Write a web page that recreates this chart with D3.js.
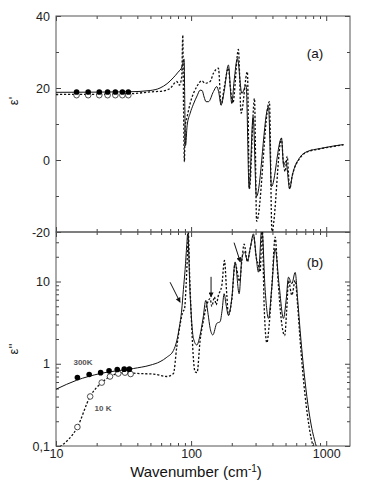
<!DOCTYPE html>
<html>
<head>
<meta charset="utf-8">
<script src="https://cdn.jsdelivr.net/npm/d3@7"></script>
<style>
  body { margin: 0; background: #fff; }
  svg { display: block; font-family: "Liberation Sans", Arial, sans-serif; }
</style>
</head>
<body>
<div id="root"></div>
<script>
// ---- panel (a): real part eps' ----
let wnSolidA = [10, 20, 35.3, 49.7, 58.9, 66.4, 73.6, 80.1, 85.8, 88.8, 89.9, 91.0, 93.4, 98.4, 104, 110.7, 116.6, 120.6, 124.8, 129,
    134.4, 146.3, 154.9, 159.8, 166.8, 175.6, 188.8, 200, 208.2, 220.2, 237.5, 255.5, 269, 287.7, 304.6, 374, 393.4, 466.7, 484, 502.8,
    536.6, 559.6, 641, 719, 903, 1343];
let epsSolidA = [18.8, 18.85, 18.95, 19.3, 20.0, 21.2, 22.8, 24.4, 26.0, 28.0, 14, 4.0, 9.5, 13, 15.5, 17.8, 19.4, 19.3, 17.5, 16.2,
    16.2, 19.0, 20.4, 19, 15.3, 19, 26.4, 15.7, 22, 28.2, 18.5, 20.8, -7.9, 12, -10.2, 14.8, -7.4, 6.0, -1.5, -0.3,
    -8.0, -4.5, 0.8, 2.3, 3.2, 4.3];

let wnDashA = [10, 20, 35.3, 49.7, 62.4, 69.9, 78.3, 81.9, 85.2, 86.8, 87.9, 89.2, 90.3, 93.4, 98.4, 110.2, 120, 127, 138.3, 146.3,
    159.3, 166.8, 175.6, 188.8, 194.5, 203.7, 224, 234.4, 261, 270, 294.5, 305.5, 380, 396.5, 466.7, 480, 497, 514, 536.6, 559.6,
    641, 719, 903, 1343];
let epsDashA = [18.2, 18.25, 18.4, 18.9, 19.2, 19.9, 21.8, 20.8, 23.1, 34.7, 15, -0.5, 9.3, 12, 15.7, 20.4, 22.0, 21.3, 21.8, 24.1,
    25.5, 15.3, 20, 25.5, 20.8, 15.8, 30.7, 13, 24.5, -8, 17.1, -17, 16.2, -19.8, 6.0, 0, -3.2, 1.0, -8.0, -4.5,
    0.6, 2.2, 3.1, 4.2];

let wnPointsA = [14.2, 17.3, 20.9, 24.1, 27.5, 31.0, 34.3];
let eps300A = [18.9, 18.9, 18.9, 18.9, 18.9, 18.9, 18.9];
let eps10A = [18.0, 18.0, 18.0, 18.0, 18.0, 18.0, 18.0];

// ---- panel (b): imaginary part eps'' ----
let wnSolidB = [10, 14.2, 21.2, 37.4, 49.7, 58.9, 66.1, 74, 78.3, 81.9, 85.2, 87.7, 90.3, 92.9, 94.3, 98.4, 104, 110.2, 116.6, 122.7,
    128.5, 133.6, 138.3, 144.8, 154.9, 164, 169.7, 175.6, 181.6, 188.8, 200, 211.8, 226.8, 237.5, 248.3, 261, 273.5, 289.4, 303, 315,
    334, 353, 374, 394.5, 418.8, 448.3, 482.7, 505.4, 525.7, 556.9, 589.3, 615, 641, 675.4, 719, 774, 843, 900];
let epsSolidB = [0.49, 0.63, 0.76, 0.875, 0.96, 1.06, 1.2, 1.45, 1.9, 2.8, 4.5, 8, 14, 28, 38, 6.8, 2.04, 1.69, 2.24, 3.6,
    5.9, 4.0, 2.7, 2.24, 3.1, 3.25, 4.5, 7.1, 5.2, 3.9, 6.2, 17.3, 7.1, 19, 22.9, 18.1, 25.1, 38, 20, 13,
    45, 8, 3.56, 8, 25.1, 9, 3.56, 6, 11.3, 9.4, 12.9, 6, 2.55, 1.0, 0.4, 0.18, 0.1, 0.07];

let wnDashB = [10.7, 14.4, 17.9, 21.8, 25.1, 28.9, 32.4, 36.6, 41.9, 52.6, 66.1, 74, 78.3, 82.9, 86.5, 89.5, 91.8, 94.3, 95.3, 97.5,
    101.2, 103.5, 107, 110.7, 116.6, 122.7, 130.7, 138.3, 142.3, 148.8, 153.1, 159.3, 168.8, 176.5, 183.8, 188.8, 200, 211.8, 228.8, 237.5,
    247, 261, 273.5, 289.4, 304.6, 315, 324.3, 335.5, 347.3, 363.7, 378.4, 398, 418.8, 440.6, 464.2, 492.7, 510, 525.7, 556.9, 589.3,
    615, 641, 698.8, 748, 797, 850];
let epsDashB = [0.098, 0.17, 0.40, 0.59, 0.70, 0.76, 0.78, 0.77, 0.76, 0.75, 0.70, 0.76, 1.6, 3.0, 4.2, 4.7, 9, 25, 40, 12,
    2.7, 1.3, 0.8, 0.78, 1.93, 3.2, 5.2, 6.2, 5.0, 6.5, 5.2, 6.8, 9.0, 18, 6.8, 3.9, 6, 16.5, 10, 18,
    28.5, 17.3, 25, 36, 19, 15.8, 13.1, 48, 5, 1.8, 3, 10, 34.6, 10, 3.5, 2.2, 4.5, 10.3, 6.8, 10.3,
    5, 1.93, 0.4, 0.17, 0.1, 0.07];

let wn300B = [14.4, 17.6, 21.4, 24.7, 28.4, 32.0, 34.9];
let eps300B = [0.68, 0.74, 0.78, 0.82, 0.85, 0.86, 0.86];
let wn10B = [14.4, 17.9, 21.8, 25.1, 28.9, 32.4, 35.7];
let eps10B = [0.17, 0.40, 0.59, 0.70, 0.76, 0.78, 0.75];

// arrows in panel (b): [start, end]
let arrowWn = [[69.9, 82.9], [140.5, 140.5], [208, 231.3]];
let arrowEps = [[9.8, 5.6], [11.4, 6.5], [29.7, 17.3]];

// ticks
let xMajor = [10, 100, 1000];
let xMinor = [20, 30, 40, 50, 60, 70, 80, 90, 200, 300, 400, 500, 600, 700, 800, 900];
let yAMajor = [-20, 0, 20, 40];
let yAMinor = [-10, 10, 30];
let yBMajor = [0.1, 1, 10];
let yBMinor = [0.2, 0.3, 0.4, 0.5, 0.6, 0.7, 0.8, 0.9, 2, 3, 4, 5, 6, 7, 8, 9, 20, 30];

let width = 371, height = 482;
let left = 56, right = 350, topA = 16, mid = 232, bottomB = 446;

let svg = d3.select('#root').append('svg')
    .attr('width', width)
    .attr('height', height);

let x = d3.scaleLog().domain([10, 1500]).range([left, right]);
let yA = d3.scaleLinear().domain([-20, 40]).range([mid, topA]);
let yB = d3.scaleLog().domain([0.1, 40]).range([bottomB, mid]);

let defs = svg.append('defs');
defs.append('clipPath').attr('id', 'clipB')
    .append('rect').attr('x', left).attr('y', mid).attr('width', right - left).attr('height', bottomB - mid);
defs.append('marker')
    .attr('id', 'head')
    .attr('viewBox', '0 0 10 10')
    .attr('refX', 9).attr('refY', 5)
    .attr('markerWidth', 6).attr('markerHeight', 5)
    .attr('markerUnits', 'userSpaceOnUse')
    .attr('orient', 'auto')
    .append('path').attr('d', 'M0,0 L10,5 L0,10 Z').attr('fill', '#111');

// draw one axis (ticks pointing inside)
function axis(gen, pos, values, size, fmt, pad) {
    let g = svg.append('g')
        .attr('transform', pos)
        .call(gen.tickValues(values).tickSize(-size).tickPadding(pad || 6).tickFormat(fmt || ''));
    g.select('.domain').remove();
    g.selectAll('line').attr('stroke', '#444');
    g.selectAll('text').attr('fill', '#222').style('font-size', '12.5px');
    return g;
}

// panel (a) axes
axis(d3.axisBottom(x), `translate(0,${mid})`, xMajor, 5);
axis(d3.axisBottom(x), `translate(0,${mid})`, xMinor, 3);
axis(d3.axisTop(x), `translate(0,${topA})`, xMajor, 5);
axis(d3.axisTop(x), `translate(0,${topA})`, xMinor, 3);
axis(d3.axisLeft(yA), `translate(${left},0)`, yAMajor, 5, d => d);
axis(d3.axisLeft(yA), `translate(${left},0)`, yAMinor, 3);
axis(d3.axisRight(yA), `translate(${right},0)`, yAMajor, 5);
axis(d3.axisRight(yA), `translate(${right},0)`, yAMinor, 3);

// panel (b) axes
axis(d3.axisBottom(x), `translate(0,${bottomB})`, xMajor, 5, d => d, 3);
axis(d3.axisBottom(x), `translate(0,${bottomB})`, xMinor, 3);
axis(d3.axisTop(x), `translate(0,${mid})`, xMajor, 5);
axis(d3.axisTop(x), `translate(0,${mid})`, xMinor, 3);
axis(d3.axisLeft(yB), `translate(${left},0)`, yBMajor, 5, d => d === 0.1 ? '0,1' : d);
axis(d3.axisLeft(yB), `translate(${left},0)`, yBMinor, 3);
axis(d3.axisRight(yB), `translate(${right},0)`, yBMajor, 5);
axis(d3.axisRight(yB), `translate(${right},0)`, yBMinor, 3);

// frames
svg.append('rect').attr('x', left).attr('y', topA).attr('width', right - left).attr('height', mid - topA)
    .attr('fill', 'none').attr('stroke', '#555').attr('stroke-width', 1);
svg.append('rect').attr('x', left).attr('y', mid).attr('width', right - left).attr('height', bottomB - mid)
    .attr('fill', 'none').attr('stroke', '#555').attr('stroke-width', 1);

let lineA = d3.line().x(d => x(d[0])).y(d => yA(d[1])).curve(d3.curveMonotoneX);
let lineB = d3.line().x(d => x(d[0])).y(d => yB(d[1])).curve(d3.curveMonotoneX);

// curves panel (a)
svg.append('path').datum(d3.zip(wnDashA, epsDashA)).attr('d', lineA)
    .attr('fill', 'none').attr('stroke', '#111').attr('stroke-width', 1.3).attr('stroke-dasharray', '2.2,1.8');
svg.append('path').datum(d3.zip(wnSolidA, epsSolidA)).attr('d', lineA)
    .attr('fill', 'none').attr('stroke', '#111').attr('stroke-width', 1);

// curves panel (b)
let gB = svg.append('g').attr('clip-path', 'url(#clipB)');
gB.append('path').datum(d3.zip(wnDashB, epsDashB)).attr('d', lineB)
    .attr('fill', 'none').attr('stroke', '#111').attr('stroke-width', 1.3).attr('stroke-dasharray', '2.2,1.8');
gB.append('path').datum(d3.zip(wnSolidB, epsSolidB)).attr('d', lineB)
    .attr('fill', 'none').attr('stroke', '#111').attr('stroke-width', 1);

// measured points
svg.selectAll('.openA').data(d3.zip(wnPointsA, eps10A)).enter().append('circle')
    .attr('cx', d => x(d[0])).attr('cy', d => yA(d[1])).attr('r', 2.8)
    .attr('fill', '#fff').attr('stroke', '#222').attr('stroke-width', 0.8);
svg.selectAll('.fillA').data(d3.zip(wnPointsA, eps300A)).enter().append('circle')
    .attr('cx', d => x(d[0])).attr('cy', d => yA(d[1])).attr('r', 2.8)
    .attr('fill', '#000');
svg.selectAll('.openB').data(d3.zip(wn10B, eps10B)).enter().append('circle')
    .attr('cx', d => x(d[0])).attr('cy', d => yB(d[1])).attr('r', 2.8)
    .attr('fill', '#fff').attr('stroke', '#222').attr('stroke-width', 0.8);
svg.selectAll('.fillB').data(d3.zip(wn300B, eps300B)).enter().append('circle')
    .attr('cx', d => x(d[0])).attr('cy', d => yB(d[1])).attr('r', 2.8)
    .attr('fill', '#000');

// arrows
arrowWn.forEach(function (w, i) {
    svg.append('line')
        .attr('x1', x(w[0])).attr('y1', yB(arrowEps[i][0]))
        .attr('x2', x(w[1])).attr('y2', yB(arrowEps[i][1]))
        .attr('stroke', '#111').attr('stroke-width', 1)
        .attr('marker-end', 'url(#head)');
});

// texts
svg.append('text').attr('x', 315).attr('y', 58).attr('text-anchor', 'middle')
    .style('font-size', '13.5px').attr('fill', '#111').text('(a)');
svg.append('text').attr('x', 315).attr('y', 267).attr('text-anchor', 'middle')
    .style('font-size', '13.5px').attr('fill', '#111').text('(b)');

svg.append('text').attr('transform', 'translate(18,101) rotate(-90)').attr('text-anchor', 'middle')
    .style('font-size', '13px').attr('fill', '#111').text("ε'");
svg.append('text').attr('transform', 'translate(18,349) rotate(-90)').attr('text-anchor', 'middle')
    .style('font-size', '13px').attr('fill', '#111').text("ε''");

svg.append('text').attr('x', 83).attr('y', 364.5).attr('text-anchor', 'middle')
    .style('font-size', '8px').style('font-weight', 'bold').attr('fill', '#555').text('300K');
svg.append('text').attr('x', 103).attr('y', 411).attr('text-anchor', 'middle')
    .style('font-size', '8px').style('font-weight', 'bold').attr('fill', '#555').text('10 K');

let title = svg.append('text').attr('x', 196).attr('y', 477).attr('text-anchor', 'middle')
    .style('font-size', '15px').attr('fill', '#111');
title.append('tspan').text('Wavenumber (cm');
title.append('tspan').attr('dy', -5).style('font-size', '10px').text('-1');
title.append('tspan').attr('dy', 5).text(')');
</script>
</body>
</html>
